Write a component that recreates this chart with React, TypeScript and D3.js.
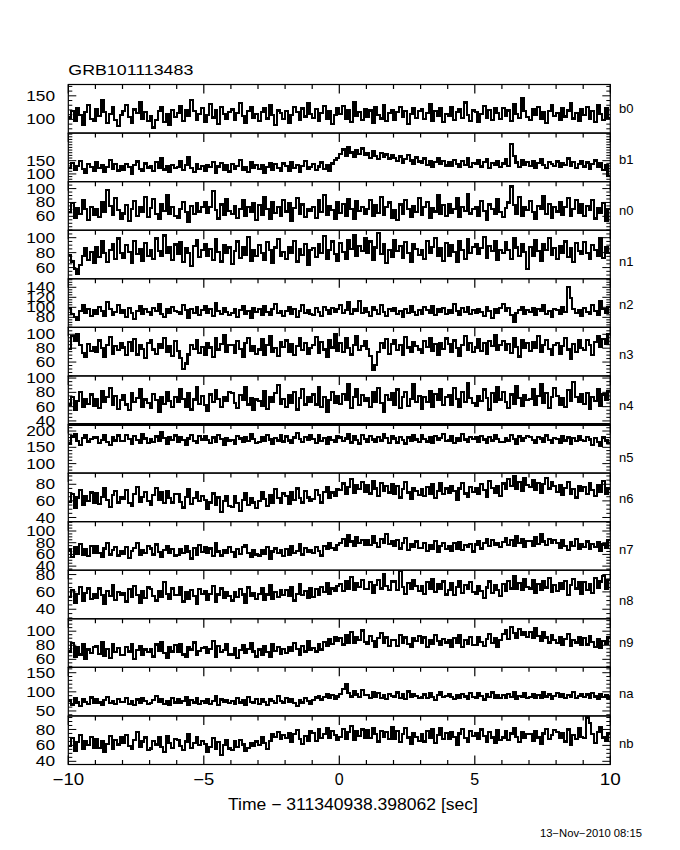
import React from "react";
import * as d3 from "d3";

// ---------- data ----------
const detectors = ["b0", "b1", "n0", "n1", "n2", "n3", "n4", "n5", "n6", "n7", "n8", "n9", "na", "nb"];
const yMin = [71, 71, 40, 45, 60, 40, 35, 71, 35, 33, 29, 48.6, 37, 36];
const yMax = [174, 254, 110, 110, 157, 110, 103, 220, 93.5, 116, 85, 117.6, 164, 97];
const yMajor = [
  [100, 150], [100, 150], [60, 80, 100], [60, 80, 100], [80, 100, 120, 140], [60, 80, 100],
  [40, 60, 80, 100], [100, 150, 200], [40, 60, 80], [40, 60, 80, 100], [40, 60, 80],
  [60, 80, 100], [50, 100, 150], [40, 60, 80],
];
const yMinorStep = [10, 10, 5, 5, 5, 5, 5, 10, 5, 5, 5, 5, 10, 5];
const xMajor = [-10, -5, 0, 5, 10];
const xMajorLabels = ["\u221210", "\u22125", "0", "5", "10"];
const xMinor = [-9, -8, -7, -6, -4, -3, -2, -1, 1, 2, 3, 4, 6, 7, 8, 9];
const titleText = "GRB101113483";
const xTitle = "Time \u2212 311340938.398062 [sec]";
const dateText = "13\u2212Nov\u22122010 08:15";

const b0 = [
  104,118,96,125,110,89,115,130,101,97, 122,108,140,115,93,112,127,99,86,110, 118,131,105,92,121,113,137,102,115,96,
  108,83,99,117,126,94,111,88,120,105, 113,129,97,120,108,141,118,99,112,124, 95,110,133,104,119,90,127,112,101,116,
  121,99,114,135,107,93,118,126,104,111, 97,116,124,102,131,109,88,119,113,100, 118,92,109,127,115,98,123,106,134,111,
  103,122,96,113,129,100,117,91,110,125, 112,128,101,119,95,137,108,116,99,121, 106,119,93,126,110,102,131,97,114,120,
  99,115,127,105,118,91,112,124,103,117, 122,100,113,132,96,118,107,125,94,111, 108,126,98,115,121,103,136,110,97,119,
  116,94,111,128,104,120,99,124,113,101, 125,107,119,96,133,112,103,146,117,105, 98,121,110,127,101,115,92,118,130,107,
  114,99,123,106,119,135,102,113,96,121, 109,126,101,117,94,130,112,99,124,103,
];
const b1 = [
  122,140,115,131,150,118,104,136,127,112, 145,121,133,108,126,152,119,137,113,129, 116,138,125,101,134,147,120,111,139,124,
  131,110,144,123,158,117,128,106,135,121, 127,149,114,133,165,122,108,137,119,130, 112,135,126,145,103,128,140,117,132,109,
  138,120,131,152,114,126,107,143,123,134, 118,133,104,127,141,115,136,121,110,139, 129,112,146,123,135,109,131,150,118,126,
  136,114,128,143,120,133,111,139,152,160, 175,192,168,201,181,163,188,174,196,170, 178,161,185,169,156,180,165,173,158,171,
  160,148,166,143,157,170,151,139,162,147, 141,158,134,150,128,146,160,137,149,132, 145,130,154,138,125,148,135,159,127,142,
  136,151,128,144,157,122,140,133,150,126, 139,155,131,214,168,143,127,152,135,146, 130,148,124,141,156,133,121,145,138,129,
  147,126,140,133,158,129,144,121,137,150, 128,143,119,137,151,125,140,116,132,92,
];
const n0 = [
  66,79,58,72,63,84,70,55,74,62, 71,59,80,67,98,75,62,86,69,57, 64,76,53,70,82,61,73,66,88,59,
  72,85,63,57,78,68,90,64,74,60, 58,70,81,66,52,75,63,79,67,73, 80,65,74,96,69,57,77,62,85,68,
  63,75,58,71,84,60,73,66,79,55, 76,62,88,70,57,81,65,74,60,83, 67,79,54,72,86,63,77,59,71,68,
  74,58,83,66,91,62,75,69,56,80, 65,78,61,85,70,57,82,68,74,63, 71,84,60,76,65,88,62,73,80,58,
  69,55,77,64,83,70,59,75,66,87, 62,74,81,58,72,67,90,63,76,60, 78,65,71,86,59,74,68,92,64,70,
  73,60,82,68,55,77,71,64,85,66, 59,72,80,103,76,64,88,61,74,69, 82,66,57,75,70,89,63,78,58,73,
  67,80,62,74,86,60,71,83,65,77, 61,75,69,84,57,72,65,79,53,70,
];
const n1 = [
  77,68,58,52,63,75,86,70,81,66, 88,74,95,79,67,84,92,72,99,80, 73,90,81,66,96,78,85,69,93,76,
  84,71,99,82,75,103,79,88,70,91, 78,94,67,86,80,62,89,97,74,83, 92,76,85,70,98,81,68,90,79,87,
  65,82,95,73,88,77,101,69,84,75, 90,79,70,94,83,66,87,98,76,81, 72,88,80,96,68,85,77,92,63,84,
  86,74,91,79,102,71,83,95,78,69, 93,81,72,97,85,104,76,89,82,99, 80,95,70,87,106,78,91,66,84,74,
  97,82,89,73,94,80,68,92,85,77, 83,71,96,79,88,100,75,86,69,93, 76,90,81,67,95,84,72,98,79,88,
  91,78,86,101,73,89,82,96,70,84, 79,94,83,72,99,87,76,92,81,58, 88,75,97,82,69,91,84,100,77,86,
  72,89,80,95,74,86,67,93,82,78, 94,80,71,90,84,76,99,73,87,79,
];
const n2 = [
  99,86,80,74,92,105,88,97,83,94, 87,101,93,82,110,96,85,91,104,89, 95,81,98,88,76,93,103,86,97,90,
  84,99,92,107,87,80,96,89,101,93, 91,86,104,94,79,97,88,100,85,95, 102,89,96,83,108,92,86,98,90,84,
  88,97,81,94,103,87,92,78,99,91, 96,85,102,90,84,97,106,89,93,82, 93,100,87,96,81,92,104,88,95,86,
  85,98,90,83,101,94,87,99,91,96, 104,89,95,110,86,97,92,113,88,99, 91,83,100,94,87,105,90,82,96,93,
  98,87,93,80,97,89,102,91,85,95, 86,100,94,88,103,84,96,91,99,87, 95,89,106,92,84,98,90,101,86,94,
  88,97,91,83,100,93,79,96,89,98, 106,92,99,84,70,88,95,101,87,94, 90,99,85,96,92,104,87,93,81,97,
  94,86,100,91,140,118,97,89,95,83, 99,91,87,104,93,85,112,96,88,101,
];
const n3 = [
  79,98,90,101,84,73,68,86,76,82, 74,91,80,68,85,96,72,83,77,88, 81,70,89,76,93,71,84,79,66,87,
  92,78,72,86,80,95,74,83,69,90, 76,66,50,58,71,85,79,92,73,82, 70,88,81,67,94,78,86,99,75,84,
  85,73,90,79,68,87,95,76,83,72, 78,93,71,84,97,75,80,69,89,82, 91,74,86,70,83,95,77,88,72,80,
  84,96,73,89,78,68,92,81,101,76, 87,75,94,80,71,85,98,77,83,90, 79,69,48,56,74,88,80,93,72,86,
  92,77,85,70,96,81,74,89,83,78, 73,90,82,95,76,86,70,88,79,94, 86,75,91,80,69,84,97,78,88,74,
  81,93,76,87,72,90,83,99,77,85, 90,78,86,73,95,82,68,91,80,87, 76,89,81,97,74,85,92,79,70,84,
  88,72,83,95,78,65,86,74,91,80, 77,92,84,70,89,97,82,93,86,101,
];
const n4 = [
  63,74,56,68,80,59,71,64,77,61, 70,58,82,66,73,86,62,75,57,69, 76,63,55,79,67,72,84,60,70,65,
  58,78,69,52,74,64,81,68,60,73, 67,85,71,60,79,56,70,88,64,75, 62,54,77,66,83,71,59,74,68,80,
  79,65,58,76,69,87,63,72,55,70, 68,61,82,57,74,66,79,90,64,71, 59,76,65,80,56,72,85,63,74,67,
  77,63,88,60,73,52,69,81,65,75, 64,78,70,92,58,73,84,62,76,68, 72,60,81,67,86,65,53,76,70,79,
  63,84,58,74,80,61,71,91,66,75, 57,73,66,82,60,78,70,85,62,74, 76,63,86,71,59,80,67,93,72,65,
  61,75,68,84,72,56,79,66,88,70, 80,67,58,77,64,89,72,61,76,69, 71,84,62,75,92,65,79,58,73,86,
  75,63,72,59,83,68,95,74,66,78, 64,79,57,74,68,85,61,77,70,82,
];
const n5 = [
  162,183,192,170,157,178,188,168,175,181, 180,164,173,189,167,158,182,171,186,169, 170,187,176,161,184,172,165,190,177,163,
  176,166,183,169,197,179,162,181,173,186, 167,182,172,158,177,189,170,163,184,174, 185,173,164,180,168,188,176,157,179,171,
  172,161,184,177,166,181,170,191,175,164, 166,181,169,188,174,160,179,171,186,168, 183,171,163,180,194,176,167,182,172,187,
  175,164,186,169,179,161,182,173,168,184, 180,169,177,190,165,184,173,162,187,176, 168,185,174,166,181,171,190,178,164,183,
  177,165,182,172,162,180,170,188,174,167, 188,176,168,180,165,184,172,178,191,170, 171,183,163,178,169,192,174,166,181,175,
  180,168,185,174,164,181,171,187,176,166, 167,179,171,189,175,162,183,170,178,185, 182,172,165,181,177,168,186,173,163,179,
  176,164,184,171,180,160,178,169,185,172, 169,181,174,158,178,166,154,180,171,163,
];
const n6 = [
  59,68,52,64,73,55,66,60,70,57, 69,56,65,75,61,53,67,72,58,64, 62,73,57,54,68,77,59,65,71,60,
  55,67,76,61,70,57,72,63,58,68, 68,59,52,65,74,56,63,71,60,66, 61,50,58,69,55,64,47,60,66,54,
  53,66,57,48,61,69,55,63,58,51, 60,71,62,54,67,58,74,63,57,69, 66,56,70,61,75,63,58,72,64,60,
  62,73,67,58,71,77,63,70,66,74, 73,81,68,77,86,70,79,74,83,71, 79,69,84,75,66,82,72,78,70,80,
  68,78,64,74,83,70,62,76,72,67, 74,66,77,69,80,63,72,81,68,75, 70,78,72,61,75,82,69,65,77,71,
  75,68,80,73,65,84,76,70,78,66, 81,74,86,78,90,75,83,72,87,79, 77,85,73,82,70,80,88,75,83,78,
  71,79,67,76,83,69,74,64,78,72, 77,68,81,73,66,79,71,84,69,75,
];
const n7 = [
  67,55,73,61,78,59,69,57,74,63, 75,62,56,70,80,60,67,73,58,66, 61,72,54,66,71,79,59,68,63,74,
  70,60,77,64,55,67,75,62,69,58, 59,69,62,74,65,53,71,60,76,64, 73,63,70,57,79,65,58,68,62,72,
  64,56,69,61,72,76,63,55,67,60, 58,67,61,73,53,65,70,62,68,57, 69,59,74,63,66,78,60,71,64,68,
  63,73,66,58,75,69,79,71,67,76, 79,87,75,93,82,74,89,80,85,77, 84,76,91,79,72,87,80,95,78,83,
  75,84,70,80,88,68,77,73,82,71, 71,80,66,76,70,83,64,75,79,69, 74,66,79,70,81,68,76,72,78,65,
  77,83,70,80,87,74,84,76,79,72, 81,88,76,84,75,92,79,86,73,83, 83,75,89,78,94,82,76,87,80,85,
  79,71,84,75,67,81,74,86,70,77, 73,82,69,78,72,81,66,77,71,84,
];
const n8 = [
  54,62,47,58,66,50,59,64,52,57, 53,64,56,46,61,55,68,51,60,57, 59,49,63,54,67,56,47,61,53,65,
  63,55,50,61,54,71,58,52,64,56, 56,65,49,60,52,62,55,46,63,58, 61,51,58,67,48,57,64,53,60,55,
  50,60,54,63,57,47,65,55,59,52, 58,64,51,57,68,52,60,54,62,56, 62,55,65,50,58,69,56,61,53,64,
  54,63,57,66,60,70,58,64,61,67, 69,61,73,64,77,62,70,66,74,63, 63,71,59,68,74,64,80,67,62,72,
  72,62,84,66,58,70,63,74,67,61, 67,58,71,63,75,60,69,64,72,57, 62,70,56,66,73,59,68,63,71,60,
  58,67,61,53,65,72,59,68,62,55, 69,61,73,64,78,63,70,62,75,66, 64,74,59,69,62,72,65,76,60,68,
  61,70,63,73,56,68,75,64,71,58, 71,62,69,59,76,65,72,78,63,74,
];
const n9 = [
  71,83,63,77,67,81,60,74,69,78, 79,68,85,65,75,62,82,70,76,66, 66,77,71,82,60,73,79,67,74,70,
  75,64,81,72,85,69,62,78,71,80, 70,82,67,63,77,74,84,66,72,76, 78,69,75,86,64,79,70,73,81,67,
  67,76,62,73,80,69,75,83,71,64, 74,66,79,70,63,82,72,77,68,75, 69,78,72,83,75,66,79,71,86,73,
  76,71,81,74,85,79,89,82,92,86, 90,81,95,84,99,83,92,87,101,85, 82,93,86,77,90,97,84,91,79,88,
  88,79,95,84,91,82,77,90,86,93, 83,91,78,88,82,94,86,80,89,84, 87,78,90,83,95,77,88,82,92,80,
  80,92,85,79,89,96,83,90,78,87, 96,101,89,106,97,91,103,94,99,92, 99,90,104,93,86,98,91,84,95,88,
  83,91,81,89,96,79,87,84,92,80, 90,81,93,85,77,89,76,86,82,91,
];
const na = [
  77,67,83,72,64,80,74,69,85,71, 81,72,66,78,86,70,75,68,82,73, 73,84,69,77,65,80,71,83,76,68,
  70,79,90,73,82,69,77,66,84,72, 80,70,76,85,67,79,72,83,69,75, 71,82,68,77,88,66,80,73,78,70,
  76,68,83,72,79,65,86,74,70,81, 69,80,73,66,82,77,70,89,75,72, 83,74,81,70,64,78,72,84,77,68,
  78,85,90,80,87,94,84,91,82,88, 95,107,119,97,88,101,93,86,104,91, 91,83,99,87,96,84,92,81,95,89,
  88,98,84,93,82,101,87,95,90,83, 85,93,83,96,87,79,92,99,86,90, 94,86,81,91,84,95,88,82,97,87,
  84,96,89,80,93,86,98,85,91,83, 92,85,95,87,100,82,90,86,96,84, 87,94,83,92,85,98,88,93,81,90,
  96,86,93,83,91,87,99,84,89,94, 86,93,84,97,88,82,95,87,91,85,
];
const nb = [
  59,69,53,64,73,55,66,60,71,57, 68,57,65,52,62,72,56,67,61,70, 63,73,59,55,67,77,58,65,70,54,
  56,66,61,70,58,52,72,63,57,68, 67,59,54,65,74,57,63,71,60,66, 62,52,58,69,55,64,48,60,67,56,
  54,66,58,67,61,53,57,63,59,65, 60,70,63,55,66,74,71,77,68,73, 69,76,64,74,79,68,62,72,66,78,
  76,66,80,69,74,82,70,78,73,67, 71,81,68,77,84,67,78,72,80,70, 79,69,82,74,65,78,71,77,68,83,
  68,78,64,74,82,70,62,76,71,66, 74,65,78,69,80,63,73,82,68,76, 68,77,71,61,75,81,69,64,78,72,
  76,68,80,72,65,77,70,63,79,67, 70,78,67,75,82,71,64,77,69,74, 74,66,78,70,62,75,81,68,73,79,
  77,69,75,65,80,60,73,68,82,71, 69,95,88,74,63,77,83,70,66,75,
];
const series = [b0, b1, n0, n1, n2, n3, n4, n5, n6, n7, n8, n9, na, nb];

// ---------- layout ----------
const W = 680;
const H = 850;
const LEFT = 68.3;
const RIGHT = 610.3;
const TOP = 84.5;
const BOTTOM = 764.5;
const labelOffset = [-0.5, 2.6, 4.7, 7, 1.3, 3, 5.3, 8.3, 1, 3.3, 6, -0.7, 2, 3.4];
const FONT = "'Liberation Sans', Arial, sans-serif";

export default function App() {
  const n = detectors.length;
  const ph = (BOTTOM - TOP) / n;
  const x = d3.scaleLinear().domain([-10, 10]).range([LEFT, RIGHT]);

  const panels = detectors.map((det, i) => {
    const y0 = TOP + i * ph;
    const y1 = y0 + ph;
    const y = d3.scaleLinear().domain([yMin[i], yMax[i]]).range([y1, y0]);
    const vals = series[i];
    const bw = 20 / vals.length;
    const pts: [number, number][] = vals.map((v, j) => [-10 + j * bw, v]);
    pts.push([10, vals[vals.length - 1]]);
    const line = d3
      .line<[number, number]>()
      .x((d) => x(d[0]))
      .y((d) => y(d[1]))
      .curve(d3.curveStepAfter);
    const minors: number[] = [];
    const start = Math.ceil(yMin[i] / yMinorStep[i]) * yMinorStep[i];
    for (let v = start; v <= yMax[i]; v += yMinorStep[i]) {
      if (!yMajor[i].includes(v)) minors.push(v);
    }
    return { det, i, y0, y1, y, path: line(pts) || "", minors };
  });

  return (
    <svg
      width={W}
      height={H}
      viewBox={`0 0 ${W} ${H}`}
      style={{ position: "absolute", left: 0, top: 0, background: "#fff" }}
      fontFamily={FONT}
    >
      <rect x={0} y={0} width={W} height={H} fill="#fff" />
      <defs>
        {panels.map((p) => (
          <clipPath id={`clip${p.i}`} key={p.i}>
            <rect x={LEFT} y={p.y0} width={RIGHT - LEFT} height={p.y1 - p.y0} />
          </clipPath>
        ))}
      </defs>
      <text x={LEFT} y={75} fontSize={14} textLength={125} lengthAdjust="spacingAndGlyphs">
        {titleText}
      </text>
      {panels.map((p) => (
        <g key={p.det}>
          <path
            d={p.path}
            fill="none"
            stroke="#000"
            strokeWidth={2.2}
            strokeLinejoin="miter"
            shapeRendering="crispEdges"
            clipPath={`url(#clip${p.i})`}
          />
          <rect
            x={LEFT}
            y={p.y0}
            width={RIGHT - LEFT}
            height={p.y1 - p.y0}
            fill="none"
            stroke="#000"
            strokeWidth={1.2}
          />
          {xMajor.map((t) => (
            <line key={`xM${t}`} x1={x(t)} x2={x(t)} y1={p.y0} y2={p.y0 + 9} stroke="#000" strokeWidth={1.2} />
          ))}
          {xMinor.map((t) => (
            <line key={`xm${t}`} x1={x(t)} x2={x(t)} y1={p.y0} y2={p.y0 + 4.5} stroke="#000" strokeWidth={1.2} />
          ))}
          {yMajor[p.i].map((v) => (
            <g key={`yM${v}`}>
              <line x1={LEFT} x2={LEFT + 8} y1={p.y(v)} y2={p.y(v)} stroke="#000" strokeWidth={1} />
              <line x1={RIGHT} x2={RIGHT - 8} y1={p.y(v)} y2={p.y(v)} stroke="#000" strokeWidth={1} />
              <text
                x={55}
                y={p.y(v)}
                dy="0.36em"
                fontSize={14}
                textAnchor="end"
                textLength={String(v).length * 9.6}
                lengthAdjust="spacingAndGlyphs"
              >
                {v}
              </text>
            </g>
          ))}
          {p.minors.map((v) => (
            <g key={`ym${v}`}>
              <line x1={LEFT} x2={LEFT + 4} y1={p.y(v)} y2={p.y(v)} stroke="#000" strokeWidth={1} />
              <line x1={RIGHT} x2={RIGHT - 4} y1={p.y(v)} y2={p.y(v)} stroke="#000" strokeWidth={1} />
            </g>
          ))}
          <text x={619} y={(p.y0 + p.y1) / 2 + 4.5 + labelOffset[p.i]} fontSize={13}>
            {p.det}
          </text>
        </g>
      ))}
      <line x1={LEFT} x2={RIGHT} y1={panels[7].y0} y2={panels[7].y0} stroke="#000" strokeWidth={3} />
      {xMajor.map((t) => (
        <line key={`bM${t}`} x1={x(t)} x2={x(t)} y1={BOTTOM} y2={BOTTOM - 9} stroke="#000" strokeWidth={1.2} />
      ))}
      {xMinor.map((t) => (
        <line key={`bm${t}`} x1={x(t)} x2={x(t)} y1={BOTTOM} y2={BOTTOM - 4.5} stroke="#000" strokeWidth={1.2} />
      ))}
      {xMajor.map((t, k) => (
        <text
          key={`xl${t}`}
          x={x(t)}
          y={785}
          fontSize={16}
          textAnchor="middle"
          {...(xMajorLabels[k].length > 1
            ? { textLength: xMajorLabels[k].length * 10.5, lengthAdjust: "spacingAndGlyphs" }
            : {})}
        >
          {xMajorLabels[k]}
        </text>
      ))}
      <text x={228} y={810} fontSize={16} textLength={250} lengthAdjust="spacingAndGlyphs">
        {xTitle}
      </text>
      <text x={540} y={837} fontSize={10} textLength={102} lengthAdjust="spacingAndGlyphs">
        {dateText}
      </text>
    </svg>
  );
}
